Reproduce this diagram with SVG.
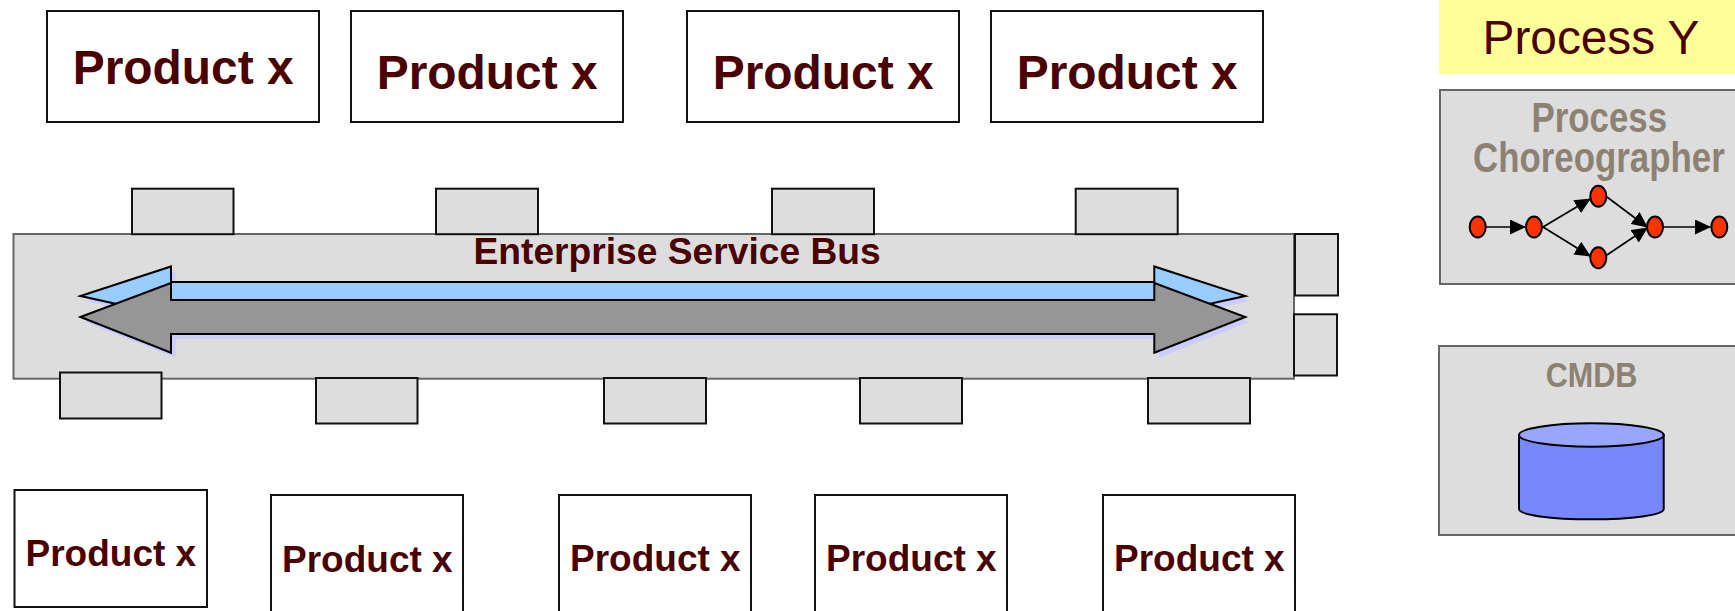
<svg xmlns="http://www.w3.org/2000/svg" width="1735" height="611" viewBox="0 0 1735 611">
<style>
text{font-family:"Liberation Sans",Arial,sans-serif;fill:#4a0000}
.b{font-weight:bold}
.pl{font-size:47.9px;font-weight:bold}
.ps{font-size:37px;font-weight:bold}
.product{fill:#fff;stroke:#111;stroke-width:2}
.tab{fill:#ddd;stroke:#111;stroke-width:2}
.panel{fill:#ddd;stroke:#666;stroke-width:2}
.tan{fill:#8c8273;font-weight:bold}
.step{fill:#ff3300;stroke:#000;stroke-width:2}
.flow{fill:none;stroke:#000;stroke-width:1.7;marker-end:url(#ah)}
.ol{stroke:#000;stroke-width:2;stroke-linejoin:miter}
</style>
<defs>
<marker id="ah" markerUnits="userSpaceOnUse" markerWidth="16" markerHeight="15" refX="15" refY="7.5" orient="auto"><path d="M0 0L16 7.5L0 15Z" fill="#000"/></marker>
<path id="a1" d="M80.5 296L171 266.5V282H1154.3V266.5L1245.3 296L1154.3 316V300H171V316Z"/>
<path id="a2" d="M80.5 317L171 283V300H1154.3V283L1245.3 317L1154.3 352.7V334H171V352.7Z"/>
</defs>
<g id="bus">
<rect class="panel" x="13.5" y="234" width="1280.5" height="144.7"/>
<use href="#a1" x="4.5" y="5" fill="#ccf"/>
<use href="#a2" x="4.5" y="5" fill="#ccf"/>
<use href="#a1" fill="#99ccff" class="ol"/>
<use href="#a2" fill="#969696" class="ol"/>
<text class="b" x="473.5" y="263.6" font-size="37.2">Enterprise Service Bus</text>
</g>
<g id="tab-t1"><rect class="tab" x="132" y="188.7" width="101.5" height="45.5"/></g>
<g id="tab-t2"><rect class="tab" x="436" y="188.7" width="102" height="45.5"/></g>
<g id="tab-t3"><rect class="tab" x="772" y="188.7" width="102" height="45.5"/></g>
<g id="tab-t4"><rect class="tab" x="1075.7" y="188.7" width="102" height="45.5"/></g>
<g id="tab-b1"><rect class="tab" x="60" y="372.5" width="101.5" height="46"/></g>
<g id="tab-b2"><rect class="tab" x="316" y="378" width="101.5" height="45.5"/></g>
<g id="tab-b3"><rect class="tab" x="604" y="378" width="102" height="45.5"/></g>
<g id="tab-b4"><rect class="tab" x="860" y="378" width="102" height="45.5"/></g>
<g id="tab-b5"><rect class="tab" x="1148" y="378" width="102" height="45.5"/></g>
<g id="tab-r1"><rect class="tab" x="1295" y="234" width="43" height="61.5"/></g>
<g id="tab-r2"><rect class="tab" x="1294" y="314.3" width="43" height="61.2"/></g>
<g id="product-t1"><rect class="product" x="47" y="11" width="272" height="111"/><text class="pl" x="72.7" y="83.7">Product x</text></g>
<g id="product-t2"><rect class="product" x="351" y="11" width="272" height="111"/><text class="pl" x="376.7" y="88.5">Product x</text></g>
<g id="product-t3"><rect class="product" x="687" y="11" width="272" height="111"/><text class="pl" x="712.7" y="88.5">Product x</text></g>
<g id="product-t4"><rect class="product" x="991" y="11" width="272" height="111"/><text class="pl" x="1016.7" y="88.5">Product x</text></g>
<g id="product-b1"><rect class="product" x="14.5" y="490" width="192.5" height="117"/><text class="ps" x="25.5" y="566">Product x</text></g>
<g id="product-b2"><rect class="product" x="271" y="495" width="192" height="120"/><text class="ps" x="282" y="572">Product x</text></g>
<g id="product-b3"><rect class="product" x="559" y="495" width="192" height="120"/><text class="ps" x="570" y="571">Product x</text></g>
<g id="product-b4"><rect class="product" x="815" y="495" width="192" height="120"/><text class="ps" x="826" y="571">Product x</text></g>
<g id="product-b5"><rect class="product" x="1103" y="495" width="192" height="120"/><text class="ps" x="1114" y="571">Product x</text></g>
<g id="process-y"><rect x="1439" y="0" width="296" height="74" fill="#ffff99"/><text x="1482.5" y="53.5" font-size="47.8">Process Y</text></g>
<g id="process-choreographer"><rect class="panel" x="1440" y="90" width="300" height="194"/>
<text class="tan" transform="translate(1531.5 131.7) scale(.83 1)" font-size="42">Process</text>
<text class="tan" transform="translate(1473 172) scale(.83 1)" font-size="42">Choreographer</text></g>
<g id="cmdb"><rect class="panel" x="1439" y="346" width="300" height="189"/>
<text class="tan" transform="translate(1545.7 387.3) scale(.85 1)" font-size="36">CMDB</text></g>
<g id="database"><path d="M1519 435V509C1519 515 1551 519.3 1591.3 519.3S1663.7 515 1663.7 509V435Z" fill="#7788ff" stroke="#000" stroke-width="2"/><ellipse cx="1591.3" cy="435" rx="72.3" ry="11.7" fill="#99a6ff" stroke="#000" stroke-width="2"/></g>
<g id="connectors">
<path class="flow" d="M1486 227H1525"/>
<path class="flow" d="M1543 227L1590 199"/>
<path class="flow" d="M1543 227L1590 256"/>
<path class="flow" d="M1607 197L1647 227"/>
<path class="flow" d="M1607 255L1647 228"/>
<path class="flow" d="M1663 227H1710"/>
</g>
<g id="step-1"><ellipse class="step" cx="1477.7" cy="227" rx="8" ry="10.5"/></g>
<g id="step-2"><ellipse class="step" cx="1534" cy="227" rx="8" ry="10.5"/></g>
<g id="step-3"><ellipse class="step" cx="1598.3" cy="196.3" rx="8" ry="10.5"/></g>
<g id="step-4"><ellipse class="step" cx="1598.3" cy="257.7" rx="8" ry="10.5"/></g>
<g id="step-5"><ellipse class="step" cx="1655" cy="227" rx="8" ry="10.5"/></g>
<g id="step-6"><ellipse class="step" cx="1719.3" cy="227" rx="8" ry="10.5"/></g>
</svg>
